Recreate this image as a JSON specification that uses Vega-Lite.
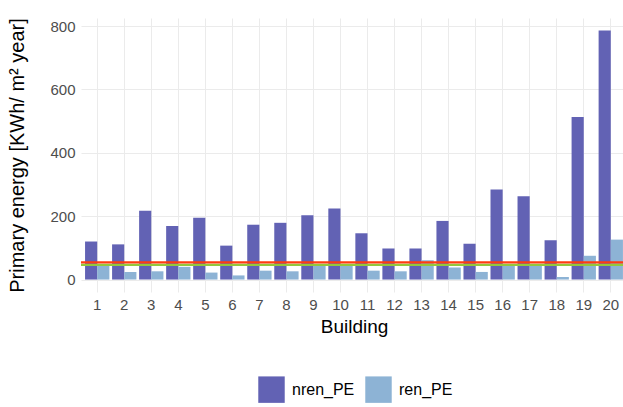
{
  "$schema": "https://vega.github.io/schema/vega-lite/v6.json",
  "autosize": {"type": "none"},
  "padding": {"left": 81, "top": 18, "right": 0, "bottom": 115},
  "width": 546,
  "height": 274,
  "background": "white",
  "config": {
    "view": {"stroke": null},
    "font": "Liberation Sans",
    "axis": {"domain": false, "ticks": false, "gridColor": "#ebebeb", "labelColor": "#4d4d4d", "labelFont": "Liberation Sans", "titleFont": "Liberation Sans", "titleFontWeight": "normal", "titleColor": "#000000"}
  },
  "datasets": {
    "bars": [
      {"building": "1", "type": "nren_PE", "value": 120}, {"building": "1", "type": "ren_PE", "value": 43},
      {"building": "2", "type": "nren_PE", "value": 111}, {"building": "2", "type": "ren_PE", "value": 24},
      {"building": "3", "type": "nren_PE", "value": 217}, {"building": "3", "type": "ren_PE", "value": 26},
      {"building": "4", "type": "nren_PE", "value": 169}, {"building": "4", "type": "ren_PE", "value": 40},
      {"building": "5", "type": "nren_PE", "value": 195}, {"building": "5", "type": "ren_PE", "value": 22},
      {"building": "6", "type": "nren_PE", "value": 107}, {"building": "6", "type": "ren_PE", "value": 13},
      {"building": "7", "type": "nren_PE", "value": 173}, {"building": "7", "type": "ren_PE", "value": 28},
      {"building": "8", "type": "nren_PE", "value": 179}, {"building": "8", "type": "ren_PE", "value": 26},
      {"building": "9", "type": "nren_PE", "value": 203}, {"building": "9", "type": "ren_PE", "value": 47},
      {"building": "10", "type": "nren_PE", "value": 224}, {"building": "10", "type": "ren_PE", "value": 47},
      {"building": "11", "type": "nren_PE", "value": 146}, {"building": "11", "type": "ren_PE", "value": 28},
      {"building": "12", "type": "nren_PE", "value": 98}, {"building": "12", "type": "ren_PE", "value": 26},
      {"building": "13", "type": "nren_PE", "value": 98}, {"building": "13", "type": "ren_PE", "value": 61},
      {"building": "14", "type": "nren_PE", "value": 185}, {"building": "14", "type": "ren_PE", "value": 38},
      {"building": "15", "type": "nren_PE", "value": 113}, {"building": "15", "type": "ren_PE", "value": 24},
      {"building": "16", "type": "nren_PE", "value": 284}, {"building": "16", "type": "ren_PE", "value": 47},
      {"building": "17", "type": "nren_PE", "value": 263}, {"building": "17", "type": "ren_PE", "value": 47},
      {"building": "18", "type": "nren_PE", "value": 124}, {"building": "18", "type": "ren_PE", "value": 8},
      {"building": "19", "type": "nren_PE", "value": 513}, {"building": "19", "type": "ren_PE", "value": 75},
      {"building": "20", "type": "nren_PE", "value": 786}, {"building": "20", "type": "ren_PE", "value": 126}
    ],
    "lines": [
      {"name": "green", "value": 46, "color": "#93c83c"},
      {"name": "red", "value": 54, "color": "#ff3c10"}
    ]
  },
  "layer": [
    {
      "data": {"name": "bars"},
      "mark": {"type": "bar"},
      "encoding": {
        "x": {
          "field": "building", "type": "nominal", "sort": null,
          "scale": {"paddingInner": 0.1, "paddingOuter": 0.15},
          "axis": {"title": "Building", "labelAngle": 0, "labelFontSize": 15, "labelPadding": 5, "titleFontSize": 19, "titlePadding": 5, "bandPosition": 0.5, "grid": true, "gridWidth": 1}
        },
        "xOffset": {"field": "type", "type": "nominal", "scale": {"paddingInner": 0, "paddingOuter": 0}},
        "y": {
          "field": "value", "type": "quantitative",
          "scale": {"domain": [-39.3, 825.3], "nice": false, "zero": false},
          "axis": {
            "title": "Primary energy [KWh/ m² year]",
            "values": [0, 100, 200, 300, 400, 500, 600, 700, 800],
            "labelExpr": "datum.value % 200 === 0 ? datum.label : ''",
            "gridWidth": {"condition": {"test": "datum.value % 200 === 0", "value": 1.1}, "value": 0.6},
            "labelFontSize": 15, "labelPadding": 6, "titleFontSize": 20, "titlePadding": 22
          }
        },
        "y2": {"datum": 0},
        "color": {
          "field": "type", "type": "nominal",
          "scale": {"domain": ["nren_PE", "ren_PE"], "range": ["#6262b4", "#8db3d5"]},
          "legend": {"title": null, "orient": "none", "direction": "horizontal", "legendX": 177, "legendY": 358, "symbolType": "square", "symbolSize": 700, "symbolStrokeWidth": 0, "symbolOpacity": 1, "labelFontSize": 16, "labelColor": "#000000", "columnPadding": 10, "labelOffset": 7}
        }
      }
    },
    {
      "data": {"name": "lines"},
      "mark": {"type": "rule", "strokeWidth": 2.3},
      "encoding": {
        "y": {"field": "value", "type": "quantitative"},
        "color": {"field": "color", "type": "nominal", "scale": null, "legend": null}
      }
    }
  ],
  "resolve": {"scale": {"color": "independent"}}
}
